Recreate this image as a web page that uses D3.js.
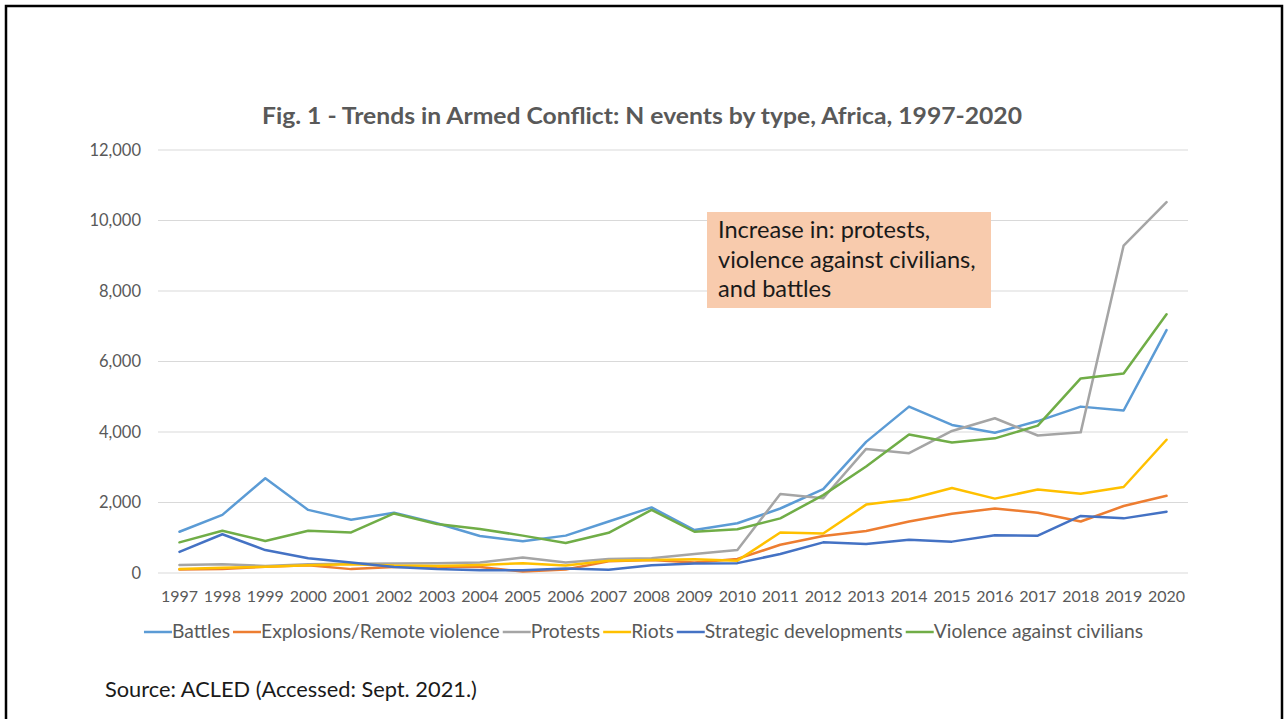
<!DOCTYPE html>
<html><head><meta charset="utf-8">
<script src="https://cdn.jsdelivr.net/npm/d3@7"></script>
<style>html,body{margin:0;padding:0;background:#fff;overflow:hidden}</style>
</head><body>
<svg id="chart" width="1284" height="719"></svg>
<script>
const years = ["1997","1998","1999","2000","2001","2002","2003","2004","2005","2006","2007","2008","2009","2010","2011","2012","2013","2014","2015","2016","2017","2018","2019","2020"];
const seriesNames = ["Battles","Explosions/Remote violence","Protests","Riots","Strategic developments","Violence against civilians"];
const seriesColors = ["#5B9BD5","#ED7D31","#A5A5A5","#FFC000","#4472C4","#70AD47"];
const battles = [1170,1650,2690,1790,1510,1710,1410,1050,900,1060,1460,1860,1220,1410,1830,2380,3720,4720,4200,3980,4310,4720,4610,6890];
const explosions = [100,110,180,220,110,170,180,170,40,100,330,370,300,400,800,1050,1190,1460,1680,1830,1710,1460,1900,2190];
const protests = [230,250,200,250,260,270,280,300,440,300,400,420,540,650,2240,2120,3520,3400,4030,4390,3900,3990,9290,10520];
const riots = [110,150,180,220,250,210,200,230,280,210,350,370,390,350,1150,1120,1940,2090,2410,2110,2370,2250,2440,3780];
const strategic = [600,1100,650,420,300,170,110,80,80,130,90,220,270,280,540,870,820,940,890,1070,1060,1620,1550,1740];
const violence = [870,1200,910,1200,1150,1690,1390,1250,1060,850,1140,1790,1170,1240,1550,2210,3020,3930,3700,3820,4180,5520,5660,7340];
const yTicks = [0,2000,4000,6000,8000,10000,12000];
const titleText = "Fig. 1 - Trends in Armed Conflict: N events by type, Africa, 1997-2020";
const noteLines = ["Increase in: protests,","violence against civilians,","and battles"];
const sourceText = "Source: ACLED (Accessed: Sept. 2021.)";

const allSeries = [battles, explosions, protests, riots, strategic, violence];
const FONT = "Lato, 'Open Sans', sans-serif";
const svg = d3.select("#chart");

// frame
svg.append("path").attr("d","M6,719 V6 H1282 V719").attr("fill","none").attr("stroke","#000").attr("stroke-width",2.5);

const pLeft = 158, pRight = 1188, pTop = 150, pBottom = 573;
const x = d3.scaleBand().domain(years).range([pLeft, pRight]);
const y = d3.scaleLinear().domain([0, 12000]).range([pBottom, pTop]);

// title
svg.append("text").attr("x", 642).attr("y", 124).attr("text-anchor","middle")
  .attr("font-family", FONT).attr("font-weight","bold").attr("font-size", 23).attr("fill","#595959")
  .attr("textLength", 760).attr("lengthAdjust", "spacingAndGlyphs")
  .text(titleText);

// gridlines
svg.append("g").selectAll("line").data(yTicks).join("line")
  .attr("x1", pLeft).attr("x2", pRight).attr("y1", d => y(d)).attr("y2", d => y(d))
  .attr("stroke", "#d9d9d9").attr("stroke-width", 1);

// y axis
const yAxis = svg.append("g").attr("transform", `translate(${pLeft},0)`)
  .call(d3.axisLeft(y).tickValues(yTicks).tickSize(0).tickPadding(17).tickFormat(d3.format(",")));
yAxis.select(".domain").remove();
yAxis.selectAll("text").attr("font-family", FONT).attr("font-size", 16.5).attr("fill", "#595959");

// x axis
const xAxis = svg.append("g").attr("transform", `translate(0,${pBottom})`)
  .call(d3.axisBottom(x).tickSize(0).tickPadding(18));
xAxis.select(".domain").remove();
xAxis.selectAll("text").attr("font-family", FONT).attr("font-size", 16).attr("fill", "#595959");

// lines
const line = d3.line().x((d,i) => x(years[i]) + x.bandwidth()/2).y(d => y(d));
svg.append("g").selectAll("path").data(allSeries).join("path")
  .attr("d", d => line(d)).attr("fill","none")
  .attr("stroke", (d,i) => seriesColors[i]).attr("stroke-width", 2.5)
  .attr("stroke-linejoin","round").attr("stroke-linecap","round");

// annotation
svg.append("rect").attr("x", 707).attr("y", 212).attr("width", 284).attr("height", 96).attr("fill", "#F8CBAD");
svg.append("g").selectAll("text").data(noteLines).join("text")
  .attr("x", 718).attr("y", (d,i) => 238 + i*29.5)
  .attr("font-family", FONT).attr("font-size", 23.6).attr("fill", "#1a1a1a").text(d => d);

// legend
const lg = svg.append("g");
let cx = 143;
seriesNames.forEach((name, i) => {
  const g = lg.append("g");
  g.append("line").attr("x1", cx).attr("x2", cx + 28).attr("y1", 632).attr("y2", 632)
    .attr("stroke", seriesColors[i]).attr("stroke-width", 2.5);
  const t = g.append("text").attr("x", cx + 28).attr("y", 638)
    .attr("font-family", FONT).attr("font-size", 19.3).attr("fill", "#595959").text(name);
  cx += 28 + t.node().getComputedTextLength() + 3;
});
const lw = cx - 143;
lg.attr("transform", `translate(${645 - (143 + lw/2)},0)`);

// source
svg.append("text").attr("x", 105).attr("y", 697).attr("font-family", FONT).attr("font-size", 21.8)
  .attr("fill", "#1a1a1a").text(sourceText);
</script>
</body></html>
